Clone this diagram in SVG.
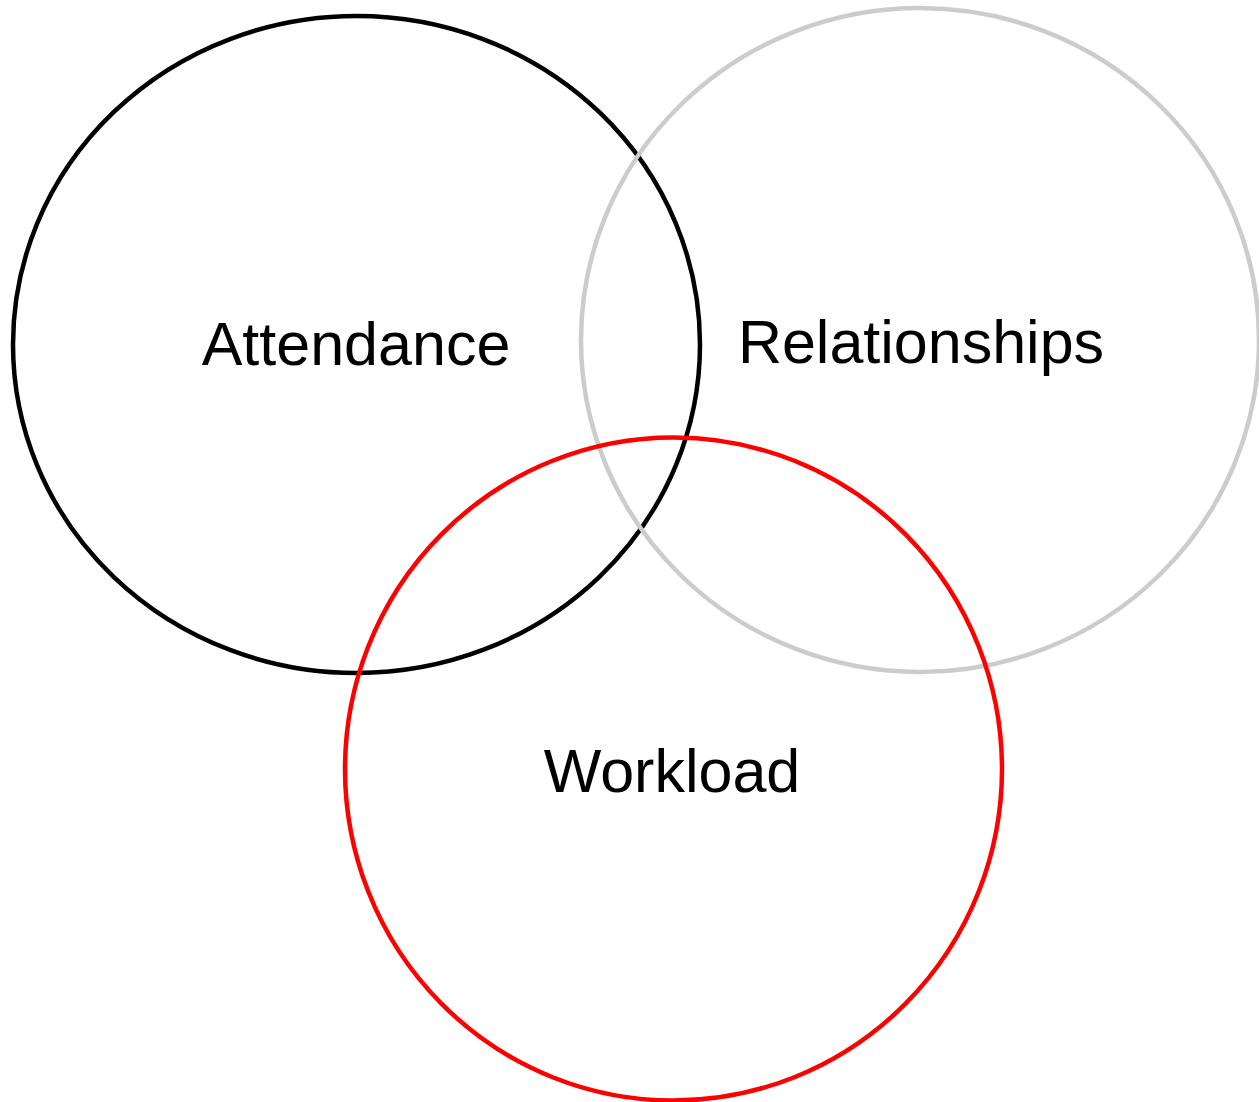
<svg xmlns="http://www.w3.org/2000/svg" width="1259" height="1102" viewBox="0 0 1259 1102">
  <style>
    .set { fill: none; stroke-width: 4.5; }
    .label { font-family: "Liberation Sans", Arial, sans-serif; font-size: 61px; fill: #000; text-anchor: middle; }
  </style>
  <rect width="1259" height="1102" fill="#fff"/>
  <g id="attendance">
    <ellipse class="set" cx="356.5" cy="344.5" rx="343.5" ry="328.5" stroke="#000"/>
    <text class="label" x="356" y="365">Attendance</text>
  </g>
  <g id="relationships">
    <ellipse class="set" cx="920" cy="340" rx="339" ry="332" stroke="#cccccc"/>
    <text class="label" x="921" y="363">Relationships</text>
  </g>
  <g id="workload">
    <ellipse class="set" cx="673.5" cy="769" rx="328.5" ry="331.5" stroke="#ff0000"/>
    <text class="label" x="672" y="792">Workload</text>
  </g>
  <g id="connectors"/>
</svg>
